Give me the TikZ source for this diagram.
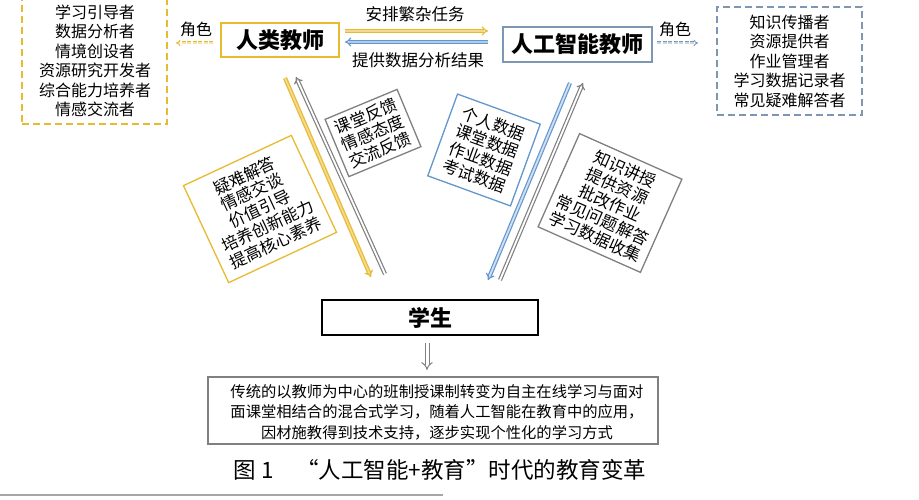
\documentclass[tikz,border=0pt]{standalone}
\usepackage{fontspec}
\setmainfont{Noto Sans CJK SC}
\usetikzlibrary{arrows.meta}
\definecolor{cyel}{RGB}{232,186,48}
\definecolor{cblue}{RGB}{100,152,205}
\definecolor{cgray}{RGB}{128,128,128}
\definecolor{cslate}{RGB}{125,150,178}
\tikzset{
  txt/.style={inner sep=0pt, align=center, font=\fontsize{16}{19.5}\selectfont},
  rolebox/.style={line width=1.5pt, dash pattern=on 7pt off 4pt, inner sep=0pt, align=center, font=\fontsize{16}{19.5}\selectfont},
  teacher/.style={line width=1.5pt, inner sep=0pt, font=\fontsize{22}{26}\selectfont\bfseries},
  tiltbox/.style={line width=1.3pt, inner sep=0pt, align=center, font=\fontsize{16.5}{18.5}\selectfont},
  hollow/.style={line width=1.2pt, double distance=1.8pt, -{Implies}},
  rolearrow/.style={line width=0.9pt, double distance=1.2pt, dash pattern=on 4pt off 1.5pt, -{Implies}},
}
\begin{document}
\begin{tikzpicture}[x=1pt,y=-1pt]
\useasboundingbox (0,0) rectangle (919,500);
\fill[white] (0,0) rectangle (919,500);

% role boxes
\node[rolebox, draw=cyel, minimum width=145pt, minimum height=129pt] (lrole) at (94.5,59.5) {};
\node[txt] (lroletxt) at (95,61) {学习引导者\\数据分析者\\情境创设者\\资源研究开发者\\综合能力培养者\\情感交流者};
\node[rolebox, draw=cslate, minimum width=145pt, minimum height=108pt] (rrole) at (789.5,61) {知识传播者\\资源提供者\\作业管理者\\学习数据记录者\\常见疑难解答者};

% role labels and arrows
\node[txt] (ljs) at (196,29) {角色};
\node[txt] (rjs) at (675,29) {角色};
\coordinate (la1) at (213,43);
\coordinate (la2) at (176,43);
\coordinate (ra1) at (657,43);
\coordinate (ra2) at (698,43);
\draw[rolearrow, draw=cyel, double=cyel!40] (la1) -- (la2);
\draw[rolearrow, draw=cslate, double=cslate!40] (ra1) -- (ra2);

% teacher boxes
\node[teacher, draw=cyel, minimum width=118pt, minimum height=34pt] (human) at (280,40) {人类教师};
\node[teacher, draw=cslate, minimum width=149pt, minimum height=35pt] (ai) at (577.5,44.5) {人工智能教师};

% top arrows
\coordinate (t1) at (345,31);
\coordinate (t2) at (488,31);
\coordinate (b1) at (488,42);
\coordinate (b2) at (345,42);
\draw[hollow, draw=cyel, double=cyel!55] (t1) -- (t2);
\draw[hollow, draw=cblue, double=cblue!50] (b1) -- (b2);
\node[txt, font=\fontsize{16.5}{20}\selectfont] (task) at (415,14) {安排繁杂任务};
\node[txt, font=\fontsize{16.5}{20}\selectfont] (res) at (418,60) {提供数据分析结果};

% diagonal arrows
\coordinate (y1) at (285,78);
\coordinate (y2) at (371,277);
\coordinate (g1) at (385,274);
\coordinate (g2) at (296,77);
\coordinate (bl1) at (570,83);
\coordinate (bl2) at (488,280);
\coordinate (gr1) at (500,280);
\coordinate (gr2) at (583,83);
\draw[hollow, draw=cyel, double=cyel!55] (y1) -- (y2);
\draw[hollow, draw=cgray, double=white] (g1) -- (g2);
\draw[hollow, draw=cblue, double=cblue!30] (bl1) -- (bl2);
\draw[hollow, draw=cgray, double=white] (gr1) -- (gr2);

% tilted boxes
\node[tiltbox, draw=cyel, rotate=25, minimum width=119pt, minimum height=107pt] (hs) at (260,209) {疑难解答\\情感交谈\\价值引导\\培养创新能力\\提高核心素养};
\node[tiltbox, draw=cgray, rotate=22.6, minimum width=78pt, minimum height=62pt] (fb) at (373,133) {课堂反馈\\情感态度\\交流反馈};
\node[tiltbox, draw=cblue, rotate=-20, minimum width=88pt, minimum height=87pt] (data) at (484,150) {个人数据\\课堂数据\\作业数据\\考试数据};
\node[tiltbox, draw=cgray, rotate=-24, minimum width=112pt, minimum height=102pt] (ais) at (610,203) {知识讲授\\提供资源\\批改作业\\常见问题解答\\学习数据收集};

% student
\node[teacher, draw=black, minimum width=216pt, minimum height=35pt] (stu) at (430,317.5) {学生};
\coordinate (d2) at (427,370);
\draw[line width=1pt, double distance=3pt, draw=cgray, double=white, -{Implies}] (stu.south -| d2) ++(0,7) -- (d2);

% bottom box
\node[draw=cgray, line width=1.2pt, minimum width=450pt, minimum height=67pt, inner sep=0pt] (sum) at (433,410.5) {};
\node[txt, font=\fontsize{15.3}{20.5}\selectfont] (sumtxt) at (437,412) {传统的以教师为中心的班制授课制转变为自主在线学习与面对\\面课堂相结合的混合式学习，随着人工智能在教育中的应用，\\因材施教得到技术支持，逐步实现个性化的学习方式};

% caption
\node[txt, font=\fontsize{22.5}{25}\selectfont] (cap) at (440,470) {图 1\hspace{1em}“人工智能+教育”时代的教育变革};
\coordinate (l1) at (0,495);
\coordinate (l2) at (443,495);
\draw[cgray!70, line width=2pt] (l1) -- (l2);
\end{tikzpicture}
\end{document}
